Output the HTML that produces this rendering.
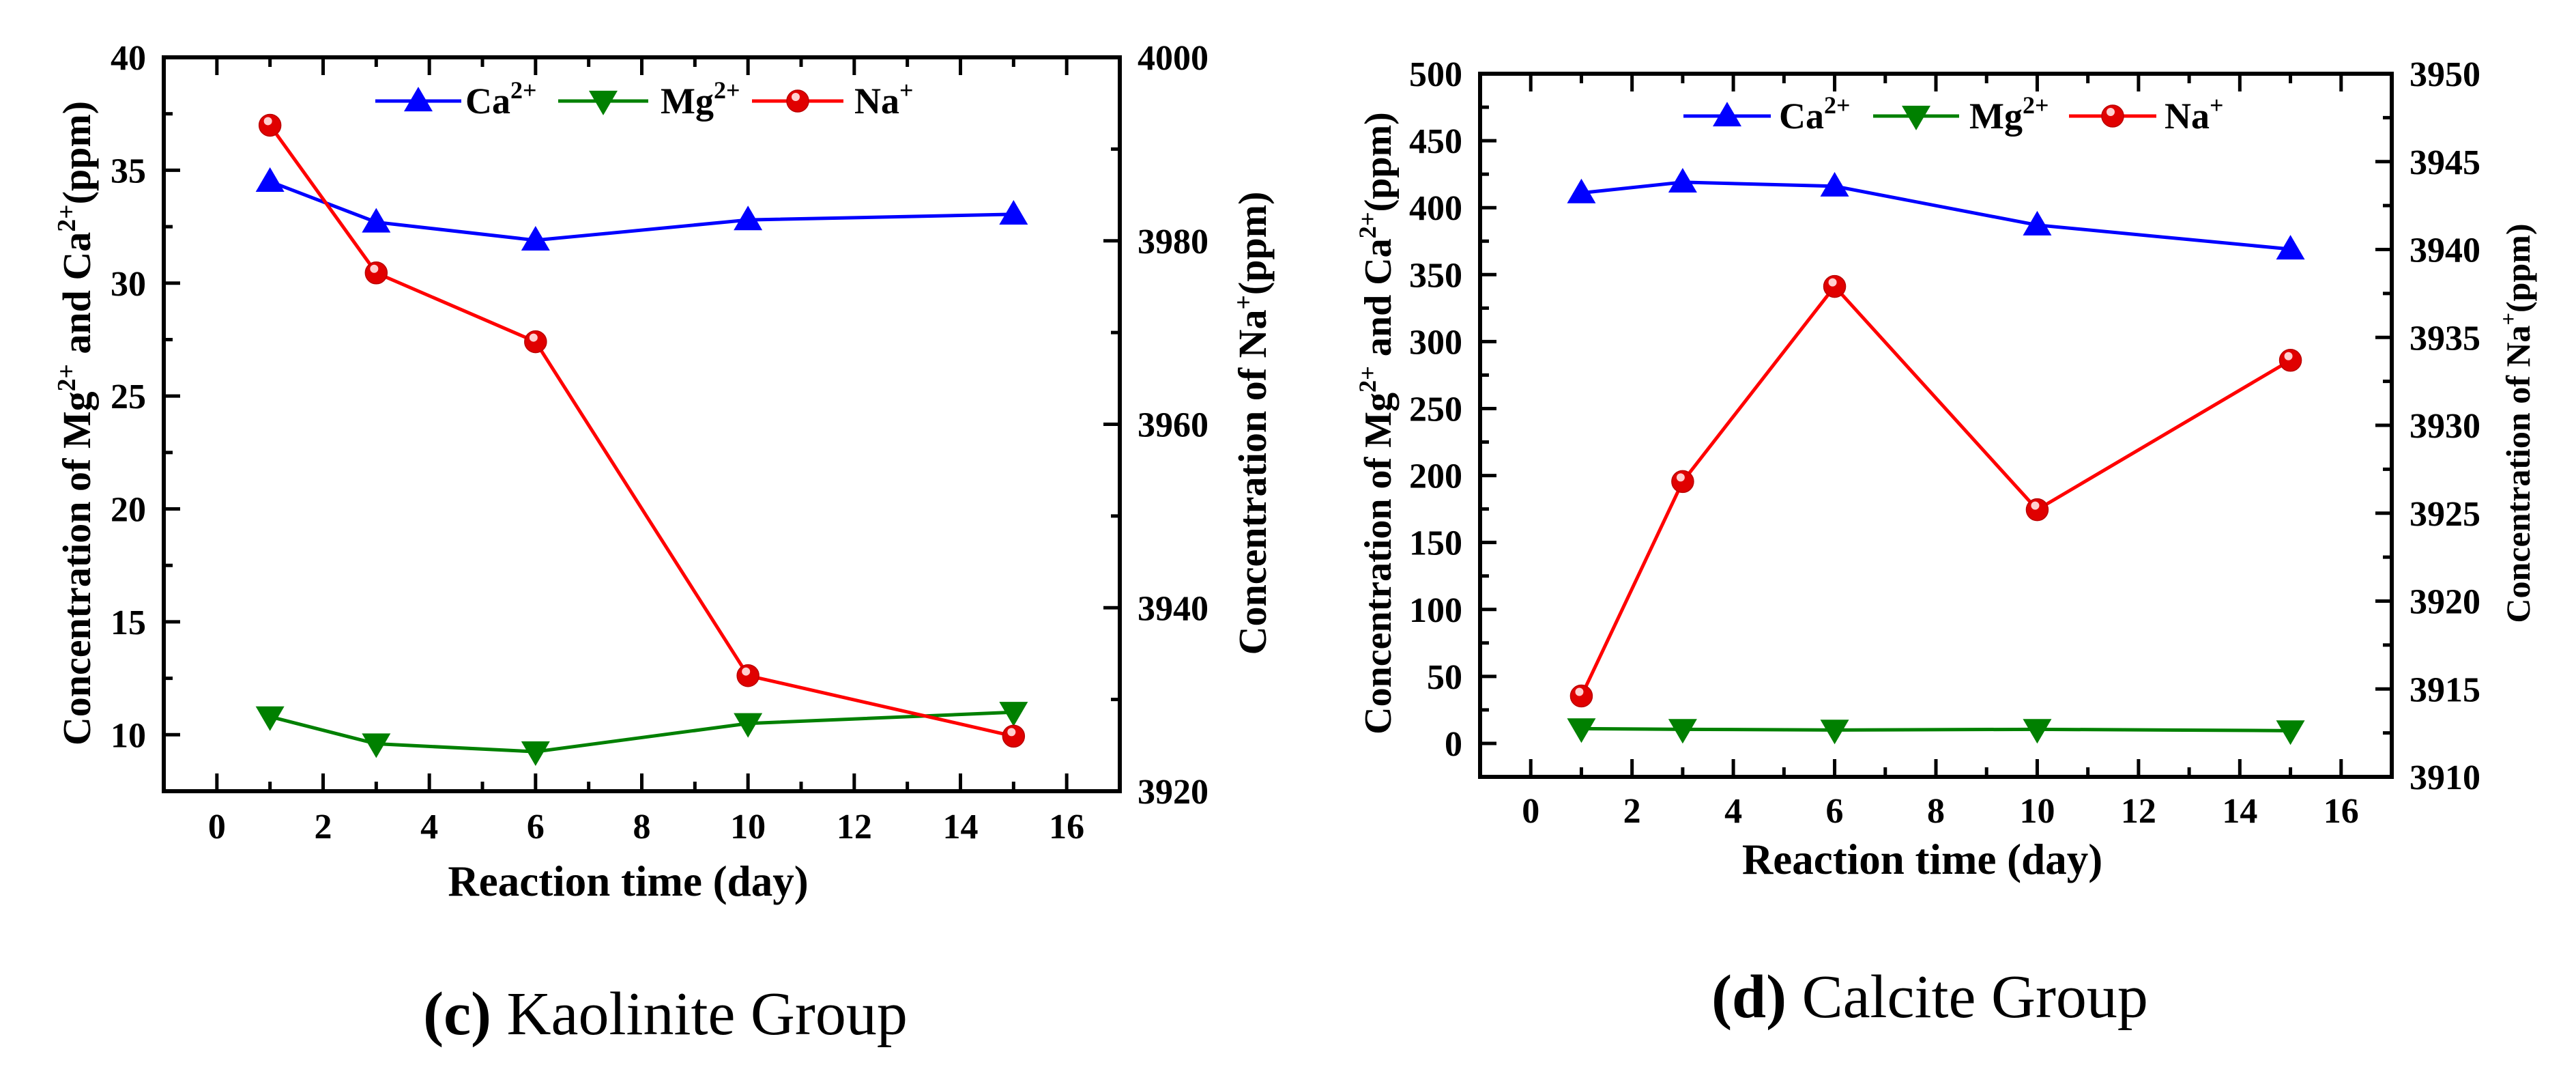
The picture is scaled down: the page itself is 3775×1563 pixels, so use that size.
<!DOCTYPE html>
<html><head><meta charset="utf-8"><style>
html,body{margin:0;padding:0;background:#fff;}
svg{display:block;}
text{font-family:"Liberation Serif",serif;fill:#000;}
</style></head><body>
<svg id="fig" width="3775" height="1563" viewBox="0 0 3775 1563" xmlns="http://www.w3.org/2000/svg">
<g id="chartC"></g>
<g id="chartD"></g>
<text x="975" y="1515" text-anchor="middle" font-size="90"><tspan font-weight="bold">(c)</tspan> Kaolinite Group</text>
<text x="2828" y="1490" text-anchor="middle" font-size="90"><tspan font-weight="bold">(d)</tspan> Calcite Group</text>
</svg>
<script>
const days = [1, 3, 6, 10, 15];
const xTicks = [0, 2, 4, 6, 8, 10, 12, 14, 16];
// Kaolinite group (c)
const caC = [34.5, 32.7, 31.9, 32.8, 33.05];
const mgC = [10.8, 9.6, 9.25, 10.5, 11.0];
const naC = [3992.6, 3976.5, 3969.0, 3932.6, 3926.0];
const leftTicksC = [10, 15, 20, 25, 30, 35, 40];
const rightTicksC = [3920, 3940, 3960, 3980, 4000];
// Calcite group (d)
const caD = [411, 419, 416, 387, 369];
const mgD = [11, 10.5, 10, 10.5, 9.5];
const naD = [3914.6, 3926.8, 3937.9, 3925.2, 3933.7];
const leftTicksD = [0, 50, 100, 150, 200, 250, 300, 350, 400, 450, 500];
const rightTicksD = [3910, 3915, 3920, 3925, 3930, 3935, 3940, 3945, 3950];

const NS = "http://www.w3.org/2000/svg";
function mk(parent, tag, attrs, txt){
  const e = document.createElementNS(NS, tag);
  for (const k in attrs) e.setAttribute(k, attrs[k]);
  if (txt !== undefined) e.textContent = txt;
  parent.appendChild(e);
  return e;
}

function draw(g, c){
  const sx = v => c.X0 + (v - c.xmin) / (c.xmax - c.xmin) * (c.X1 - c.X0);
  const syL = v => c.Y1 - (v - c.lmin) / (c.lmax - c.lmin) * (c.Y1 - c.Y0);
  const syR = v => c.Y1 - (v - c.rmin) / (c.rmax - c.rmin) * (c.Y1 - c.Y0);
  const fr = mk(g, 'rect', {x:c.X0, y:c.Y0, width:c.X1-c.X0, height:c.Y1-c.Y0, fill:'none', stroke:'#000', 'stroke-width':6});
  
  
  const tk = mk(g, 'g', {stroke:'#000', 'stroke-width':5});
  
  
  xTicks.forEach((t, i) => {
    const x = sx(t);
    mk(tk, 'line', {x1:x, x2:x, y1:c.Y1, y2:c.Y1-26});
    mk(tk, 'line', {x1:x, x2:x, y1:c.Y0, y2:c.Y0+26});
    const xm = sx(t + 1);
    if (t + 1 < c.xmax) {
      mk(tk, 'line', {x1:xm, x2:xm, y1:c.Y1, y2:c.Y1-14});
      mk(tk, 'line', {x1:xm, x2:xm, y1:c.Y0, y2:c.Y0+14});
    }
    const lb = mk(g, 'text', {x:x, y:c.xLabY, 'text-anchor':'middle', 'font-size':52, 'font-weight':'bold'}, String(t));
    
    
  });
  c.lt.forEach((t, i) => {
    const y = syL(t);
    mk(tk, 'line', {x1:c.X0, x2:c.X0+24, y1:y, y2:y});
    const ym = syL(t - c.lstep/2);
    if (t - c.lstep/2 > c.lmin) mk(tk, 'line', {x1:c.X0, x2:c.X0+13, y1:ym, y2:ym});
    const lb = mk(g, 'text', {x:c.X0-26, y:y+18, 'text-anchor':'end', 'font-size':52, 'font-weight':'bold'}, String(t));
    
    
  });
  c.rt.forEach((t, i) => {
    const y = syR(t);
    mk(tk, 'line', {x1:c.X1, x2:c.X1-24, y1:y, y2:y});
    const ym = syR(t + c.rstep/2);
    if (t + c.rstep/2 < c.rmax) mk(tk, 'line', {x1:c.X1, x2:c.X1-13, y1:ym, y2:ym});
    const lb = mk(g, 'text', {x:c.X1+26, y:y+18, 'text-anchor':'start', 'font-size':52, 'font-weight':'bold'}, String(t));
    
    
  });
  const xt = mk(g, 'text', {x:(c.X0+c.X1)/2 - 20, y:c.xTitY, 'text-anchor':'middle', 'font-size':63, 'font-weight':'bold'}, 'Reaction time (day)');
  
  
  const yl = mk(g, 'text', {transform:`translate(${c.ylX},${c.ylY}) rotate(-90)`, 'text-anchor':'middle', 'font-size':c.ylF, 'font-weight':'bold'});
  
  
  yl.innerHTML = 'Concentration of Mg<tspan dy="-22" font-size="'+(c.ylF*0.65)+'">2+</tspan><tspan dy="22"> and Ca</tspan><tspan dy="-22" font-size="'+(c.ylF*0.65)+'">2+</tspan><tspan dy="22">(ppm)</tspan>';
  const yr = mk(g, 'text', {transform:`translate(${c.yrX},${c.yrY}) rotate(-90)`, 'text-anchor':'middle', 'font-size':c.yrF, 'font-weight':'bold'});
  
  
  yr.innerHTML = 'Concentration of Na<tspan dy="-20" font-size="'+(c.yrF*0.65)+'">+</tspan><tspan dy="20">(ppm)</tspan>';

  function tri(p, x, y, up, col){
    const h = 36, w = 21;
    const pts = up ? `${x-w},${y+h*0.42} ${x+w},${y+h*0.42} ${x},${y-h*0.58}` : `${x-w},${y-h*0.42} ${x+w},${y-h*0.42} ${x},${y+h*0.58}`;
    return mk(p, 'polygon', {points:pts, fill:col});
  }
  function ball(p, x, y){
    const gg = mk(p, 'g', {});
    mk(gg, 'circle', {cx:x, cy:y, r:16, fill:'#e00000', stroke:'#b00', 'stroke-width':1.5});
    mk(gg, 'circle', {cx:x-3, cy:y-6, r:6, fill:'#ffd0d0'});
    return gg;
  }
  function series(vals, sy, col, kind, name){
    const sg = mk(g, 'g', {});
    
    
    const pts = days.map((d, i) => sx(d) + ',' + sy(vals[i])).join(' ');
    mk(sg, 'polyline', {points:pts, fill:'none', stroke:col, 'stroke-width':5});
    days.forEach((d, i) => {
      let m;
      if (kind === 'up') m = tri(sg, sx(d), sy(vals[i]), true, col);
      else if (kind === 'down') m = tri(sg, sx(d), sy(vals[i]), false, col);
      else m = ball(sg, sx(d), sy(vals[i]));
      
      
    });
  }
  series(c.mg, syL, '#008000', 'down', 'mg-series');
  series(c.ca, syL, '#0000ff', 'up', 'ca-series');
  series(c.na, syR, '#ff0000', 'ball', 'na-series');

  const lg = mk(g, 'g', {});
  
  
  const items = [['Ca','2+','#0000ff','up'],['Mg','2+','#008000','down'],['Na','+','#ff0000','ball']];
  items.forEach((it, i) => {
    const L = c.leg[i];
    const e = mk(lg, 'g', {});
    
    
    mk(e, 'line', {x1:L[0], x2:L[1], y1:c.legY, y2:c.legY, stroke:it[2], 'stroke-width':5});
    const mx = (L[0]+L[1])/2;
    if (it[3] === 'ball') ball(e, mx, c.legY); else tri(e, mx, c.legY, it[3]==='up', it[2]);
    const t = mk(e, 'text', {x:L[2], y:c.legY+18, 'font-size':54, 'font-weight':'bold'});
    t.innerHTML = it[0] + '<tspan dy="-22" font-size="36">' + it[1] + '</tspan>';
  });
}

draw(document.getElementById('chartC'), {
  X0:240, X1:1641, Y0:84, Y1:1159, xmin:-1, xmax:17,
  lmin:7.5, lmax:40, lstep:5, rmin:3920, rmax:4000, rstep:20,
  lt:leftTicksC, rt:rightTicksC, ca:caC, mg:mgC, na:naC,
  xLabY:1228, xTitY:1312,
  ylX:132, ylY:620, ylF:58, yrX:1855, yrY:620, yrF:58,
  legY:148, leg:[[550,676,682],[818,950,968],[1102,1236,1252]]
});
draw(document.getElementById('chartD'), {
  X0:2169, X1:3505, Y0:108, Y1:1138, xmin:-1, xmax:17,
  lmin:-25, lmax:500, lstep:50, rmin:3910, rmax:3950, rstep:5,
  lt:leftTicksD, rt:rightTicksD, ca:caD, mg:mgD, na:naD,
  xLabY:1205, xTitY:1280,
  ylX:2038, ylY:620, ylF:56, yrX:3707, yrY:620, yrF:50,
  legY:170, leg:[[2467,2595,2607],[2745,2871,2886],[3032,3160,3172]]
});
</script>
</body></html>
